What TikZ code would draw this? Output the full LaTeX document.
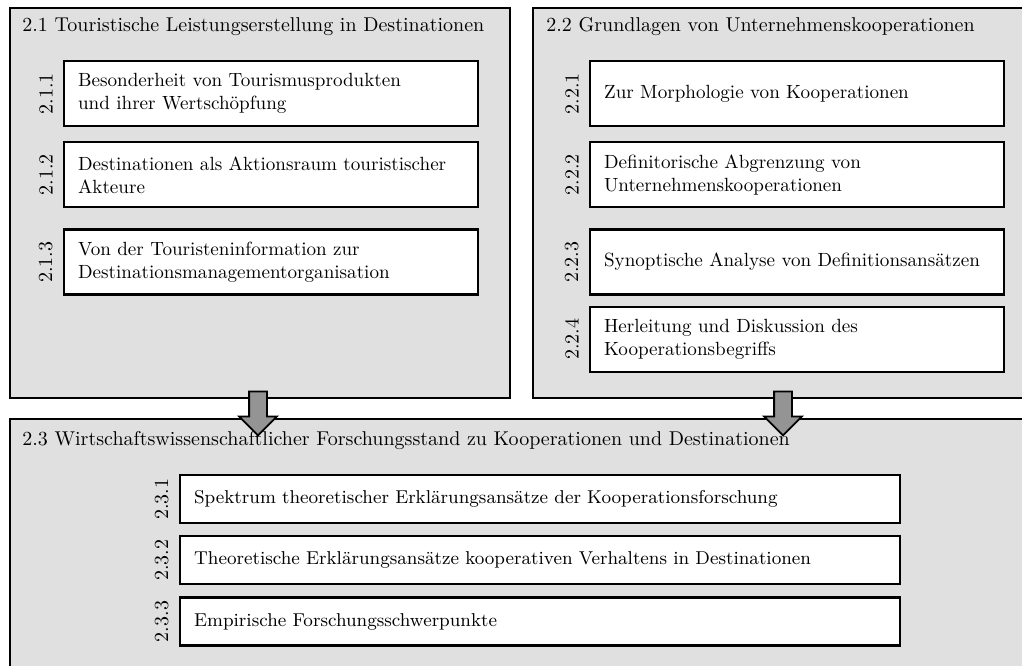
\documentclass[tikz,border=0pt]{standalone}
\usepackage{tikz}
\usetikzlibrary{positioning, shapes.arrows}

\begin{document}
\begin{tikzpicture}[
  x=0.5pt, y=-0.5pt,
  node distance = 7pt,
  outer/.style   = {draw, line width=0.9pt, fill=black!12, anchor=north west,
                    inner sep=0pt},
  title/.style   = {anchor=west, inner sep=0pt},
  chapbox/.style = {draw, line width=1.1pt, fill=white, align=left,
                    minimum height=32.5pt, text width=193pt, inner xsep=7pt,
                    font=\fontsize{9.55}{11.5}\selectfont},
  widebox/.style = {chapbox, minimum height=24pt, text width=346pt,
                    font=\fontsize{9.3}{11}\selectfont},
  numlabel/.style= {rotate=90, anchor=south, inner sep=0pt},
  bigarrow/.style= {single arrow, draw, line width=0.9pt, fill=black!42,
                    minimum height=22pt, minimum width=18pt, inner sep=4pt,
                    single arrow head extend=5pt, rotate=-90}
]
\clip (0,0) rectangle (1022,665);

% ── Outer sections ───────────────────────────────────────────────────────────
\node[outer, minimum width=250pt, minimum height=195pt] (s21) at (9,7) {};
\node[outer, minimum width=252pt, minimum height=195pt] (s22) at (532,7) {};
\node[outer, minimum width=516pt, minimum height=135pt] (s23) at (9,418) {};

\node[title] (t21) at (22,27)  {2.1 Touristische Leistungserstellung in Destinationen};
\node[title] (t22) at (546,27) {2.2 Grundlagen von Unternehmenskooperationen};
\node[title] (t23) at (22,440) {2.3 Wirtschaftswissenschaftlicher Forschungsstand zu Kooperationen und Destinationen};

% ── Section 2.1 ──────────────────────────────────────────────────────────────
\node[chapbox, anchor=north west] (b211) at (63,60)
  {Besonderheit von Tourismusprodukten\\und ihrer Wertschöpfung};
\node[chapbox, below=of b211] (b212)
  {Destinationen als Aktionsraum touristischer\\Akteure};
\node[chapbox, below=10pt of b212] (b213)
  {Von der Touristeninformation zur\\Destinationsmanagementorganisation};

\node[left=5pt of b211, numlabel] (n211) {2.1.1};
\node[left=5pt of b212, numlabel] (n212) {2.1.2};
\node[left=5pt of b213, numlabel] (n213) {2.1.3};

% ── Section 2.2 ──────────────────────────────────────────────────────────────
\node[chapbox, anchor=north west] (b221) at (589,60)
  {Zur Morphologie von Kooperationen};
\node[chapbox, below=of b221] (b222)
  {Definitorische Abgrenzung von\\Unternehmenskooperationen};
\node[chapbox, below=10pt of b222] (b223)
  {Synoptische Analyse von Definitionsansätzen};
\node[chapbox, below=5pt of b223] (b224)
  {Herleitung und Diskussion des\\Kooperationsbegriffs};

\node[left=5pt of b221, numlabel] (n221) {2.2.1};
\node[left=5pt of b222, numlabel] (n222) {2.2.2};
\node[left=5pt of b223, numlabel] (n223) {2.2.3};
\node[left=5pt of b224, numlabel] (n224) {2.2.4};

% ── Section 2.3 ──────────────────────────────────────────────────────────────
\node[widebox, anchor=north west] (b231) at (179,474)
  {Spektrum theoretischer Erklärungsansätze der Kooperationsforschung};
\node[widebox, below=5.5pt of b231] (b232)
  {Theoretische Erklärungsansätze kooperativen Verhaltens in Destinationen};
\node[widebox, below=5.5pt of b232] (b233)
  {Empirische Forschungsschwerpunkte};

\node[left=5pt of b231, numlabel] (n231) {2.3.1};
\node[left=5pt of b232, numlabel] (n232) {2.3.2};
\node[left=5pt of b233, numlabel] (n233) {2.3.3};

% ── Block arrows ─────────────────────────────────────────────────────────────
\node[bigarrow] (a1) at (258,409) {};
\node[bigarrow] (a2) at (783,409) {};

\end{tikzpicture}
\end{document}
